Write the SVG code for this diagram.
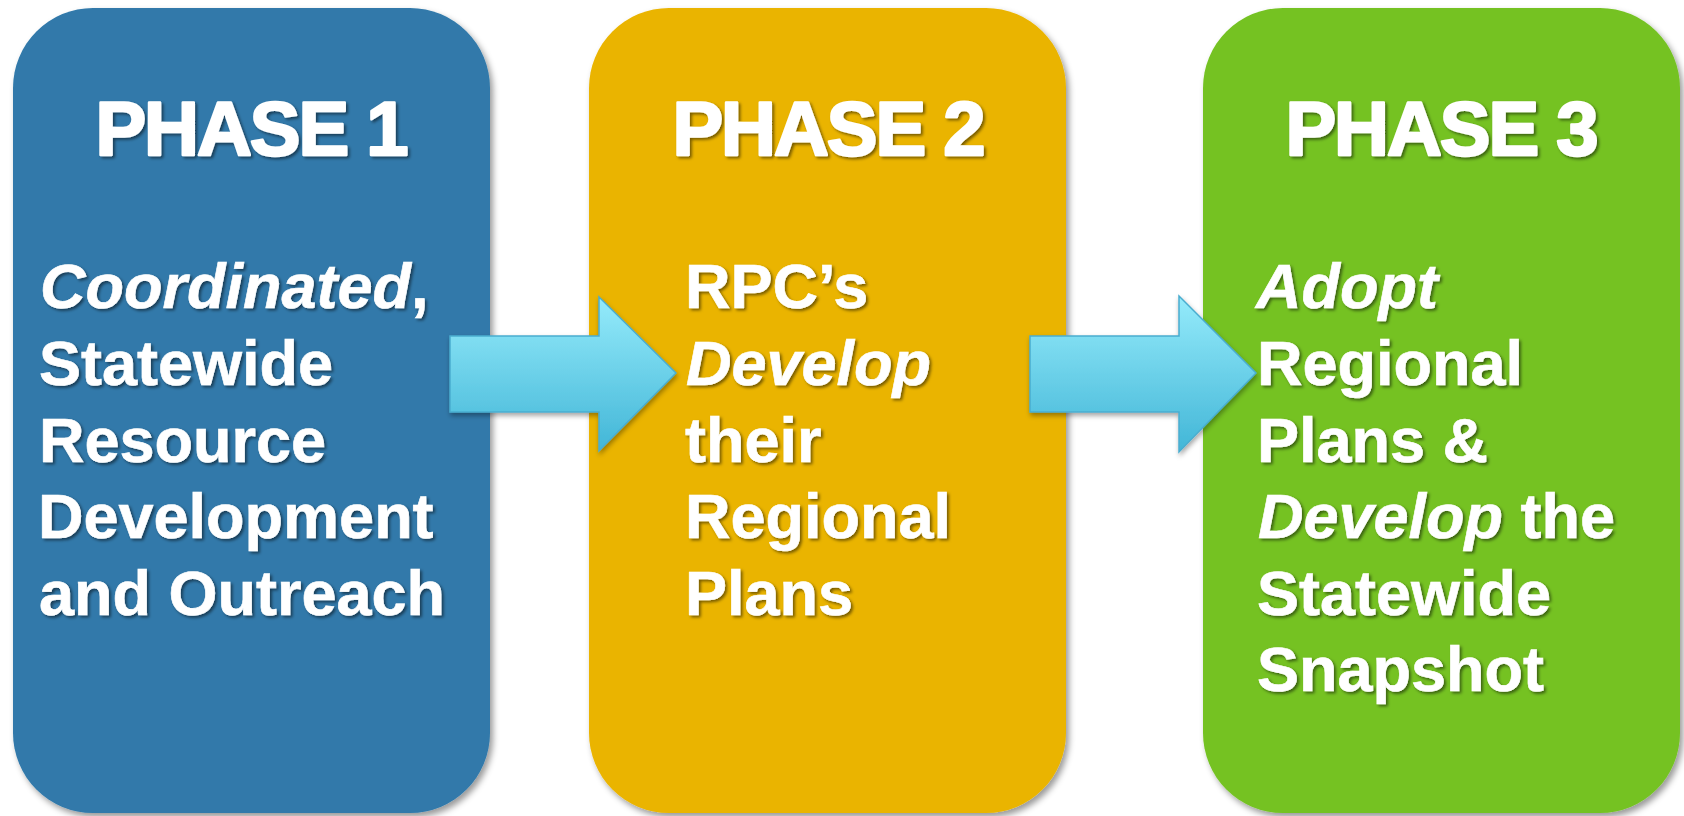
<svg xmlns="http://www.w3.org/2000/svg" width="1684" height="816" viewBox="0 0 1684 816">
<defs>
<filter id="boxShadow" x="-10%" y="-10%" width="120%" height="120%">
<feDropShadow dx="3" dy="4" stdDeviation="3" flood-color="#000" flood-opacity="0.4"/>
</filter>
<filter id="txtShadow" x="-10%" y="-20%" width="120%" height="140%">
<feDropShadow dx="2" dy="2" stdDeviation="1.5" flood-color="#000" flood-opacity="0.5"/>
</filter>
<filter id="arrowShadow" x="-10%" y="-10%" width="120%" height="130%">
<feDropShadow dx="1" dy="3" stdDeviation="2.5" flood-color="#000" flood-opacity="0.35"/>
</filter>
<linearGradient id="arrowGrad" x1="0" y1="0" x2="0" y2="1">
<stop offset="0" stop-color="#95EBFB"/>
<stop offset="1" stop-color="#42B6D7"/>
</linearGradient>
</defs>
<style>
.box{filter:url(#boxShadow);}
.title{font-family:"Liberation Sans",Arial,sans-serif;font-weight:bold;font-size:76px;fill:#fff;stroke:#fff;stroke-width:2.5px;stroke-linejoin:round;text-anchor:middle;letter-spacing:-2px;filter:url(#txtShadow);}
.body{font-family:"Liberation Sans",Arial,sans-serif;font-weight:bold;font-size:63px;fill:#fff;stroke:#fff;stroke-width:0.6px;filter:url(#txtShadow);}
.it{font-style:italic;}
.arrow{fill:url(#arrowGrad);stroke:#4AADCF;stroke-width:1.5;stroke-linejoin:miter;filter:url(#arrowShadow);}
</style>
<rect width="1684" height="816" fill="#fff"/>

<g id="phase1">
<rect class="box" x="13" y="8" width="477" height="805" rx="80" ry="80" fill="#3079AA"/>
<text class="title" x="251" y="155">PHASE 1</text>
<text class="body"><tspan x="40" y="308"><tspan class="it">Coordinated</tspan>,</tspan><tspan x="39" y="385">Statewide</tspan><tspan x="39" y="462">Resource</tspan><tspan x="38" y="538">Development</tspan><tspan x="39" y="615">and Outreach</tspan></text>
</g>

<g id="phase2">
<rect class="box" x="589" y="8" width="477" height="805" rx="80" ry="80" fill="#EAB400"/>
<text class="title" x="828" y="155">PHASE 2</text>
<text class="body"><tspan x="685" y="308">RPC’s</tspan><tspan class="it" x="686" y="385">Develop</tspan><tspan x="685" y="462">their</tspan><tspan x="685" y="538">Regional</tspan><tspan x="685" y="615">Plans</tspan></text>
</g>

<g id="phase3">
<rect class="box" x="1203" y="8" width="477" height="805" rx="80" ry="80" fill="#74C224"/>
<text class="title" x="1441" y="155">PHASE 3</text>
<text class="body"><tspan class="it" x="1256" y="308">Adopt</tspan><tspan x="1257" y="385">Regional</tspan><tspan x="1257" y="462">Plans &amp;</tspan><tspan x="1258" y="538"><tspan class="it">Develop</tspan> the</tspan><tspan x="1257" y="615">Statewide</tspan><tspan x="1257" y="691">Snapshot</tspan></text>
</g>

<g id="connectors">
<polygon class="arrow" points="450,336 599,336 599,297 676,373 599,451 599,412 450,412"/>
<polygon class="arrow" points="1030,336 1179,336 1179,296 1256,373 1179,452 1179,412 1030,412"/>
</g>
</svg>
